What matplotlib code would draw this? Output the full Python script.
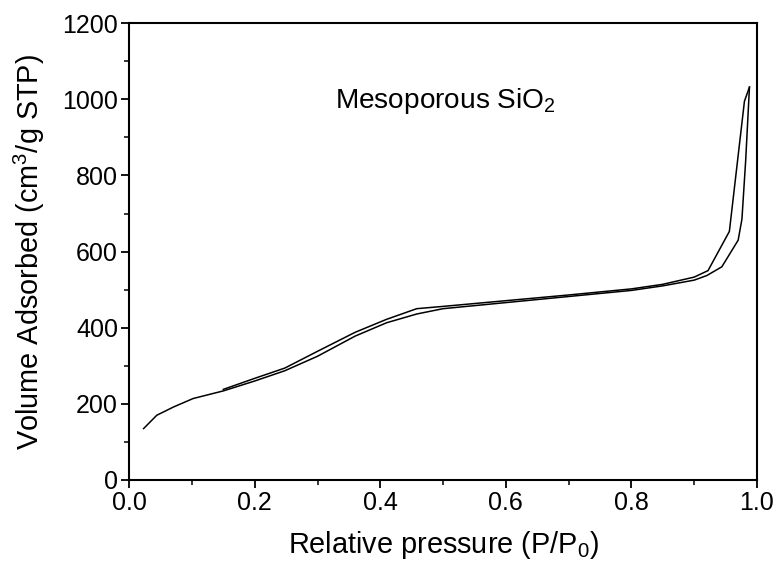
import matplotlib

matplotlib.use("Agg")
import matplotlib.pyplot as plt
from matplotlib.ticker import MultipleLocator, FormatStrFormatter

# adsorption branch (lower curve)
ads_p = [0.023, 0.044, 0.071, 0.102, 0.15, 0.2, 0.248, 0.3, 0.36, 0.41, 0.458,
         0.5, 0.6, 0.7, 0.8, 0.85, 0.9, 0.92, 0.944, 0.97, 0.976, 0.982, 0.988]
ads_v = [135, 170, 192, 214, 234, 260, 287, 325, 378, 413, 436,
         450, 466, 482, 498, 510, 525, 537, 560, 630, 685, 840, 1032]

# desorption branch (upper curve)
des_p = [0.988, 0.98, 0.956, 0.922, 0.9, 0.85, 0.8, 0.7, 0.6, 0.5, 0.458,
         0.41, 0.36, 0.3, 0.248, 0.2, 0.15]
des_v = [1032, 995, 653, 550, 533, 514, 502, 486, 471, 456, 450,
         422, 388, 338, 294, 267, 238]

plt.rcParams["font.family"] = ["Liberation Sans", "DejaVu Sans"]
plt.rcParams["mathtext.default"] = "regular"

fig = plt.figure(figsize=(7.78, 5.66), dpi=100)
ax = fig.add_axes([0.166, 0.152, 0.807, 0.807])

ax.plot(ads_p, ads_v, color="black", linewidth=1.1)
ax.plot(des_p, des_v, color="black", linewidth=1.1)

ax.set_xlim(0.0, 1.0)
ax.set_ylim(0, 1200)
ax.xaxis.set_major_locator(MultipleLocator(0.2))
ax.xaxis.set_minor_locator(MultipleLocator(0.1))
ax.yaxis.set_major_locator(MultipleLocator(200))
ax.yaxis.set_minor_locator(MultipleLocator(100))
ax.xaxis.set_major_formatter(FormatStrFormatter("%.1f"))

ax.tick_params(which="major", direction="out", length=6, width=1.3, pad=2,
               labelsize=18, top=False, right=False)
ax.tick_params(which="minor", direction="out", length=3.5, width=1.1,
               top=False, right=False)
for s in ax.spines.values():
    s.set_linewidth(1.5)

ax.set_xlabel("Relative pressure (P/P$_0$)", fontsize=20.8, labelpad=10)
ax.set_ylabel("Volume Adsorbed (cm$^3$/g STP)", fontsize=20.8, labelpad=11)

ax.text(0.328, 995, "Mesoporous SiO$_2$", fontsize=20.2, ha="left", va="center")

fig.savefig("out.png", dpi=100)
